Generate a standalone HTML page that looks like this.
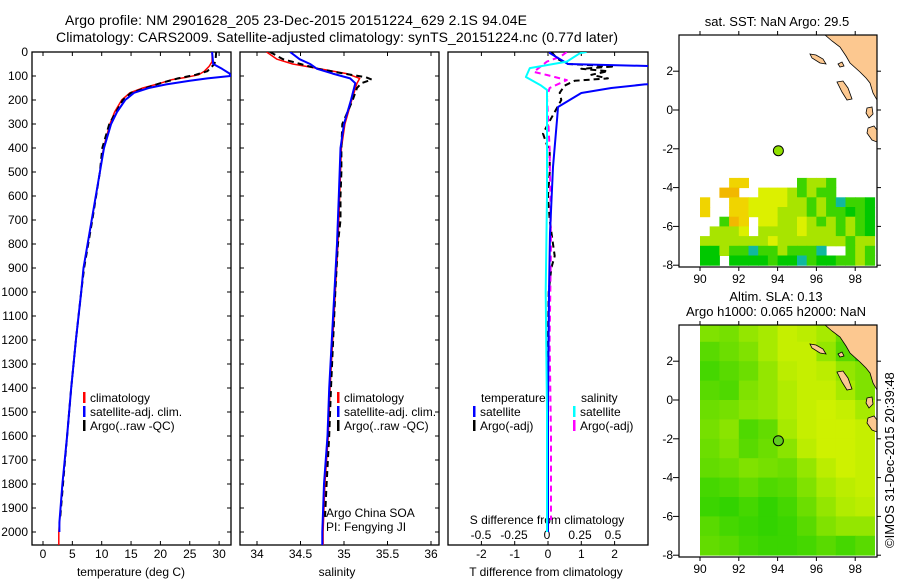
<!DOCTYPE html>
<html><head><meta charset="utf-8"><style>
html,body{margin:0;padding:0;background:#fff;}
svg{display:block;font-family:"Liberation Sans",sans-serif;}
</style></head><body>
<svg id="fig" width="900" height="580" viewBox="0 0 900 580" xmlns="http://www.w3.org/2000/svg">
<defs>
<clipPath id="c1"><rect x="32" y="52" width="199" height="493"/></clipPath>
<clipPath id="c2"><rect x="240" y="52" width="199" height="493"/></clipPath>
<clipPath id="c3"><rect x="448" y="52" width="200" height="493"/></clipPath>
<clipPath id="m1"><rect x="679" y="35" width="198" height="232"/></clipPath>
<clipPath id="m2"><rect x="679" y="325" width="198" height="232"/></clipPath>
</defs>
<g font-size="14" fill="#000">
<text x="65" y="25" textLength="462">Argo profile: NM 2901628_205 23-Dec-2015 20151224_629 2.1S 94.04E</text>
<text x="56" y="42" textLength="562">Climatology: CARS2009. Satellite-adjusted climatology: synTS_20151224.nc (0.77d later)</text>
</g>
<g font-size="13">
<text x="777" y="26" text-anchor="middle">sat. SST: NaN Argo: 29.5</text>
<text x="776" y="301" text-anchor="middle">Altim. SLA: 0.13</text>
<text x="776" y="316" text-anchor="middle">Argo h1000: 0.065 h2000: NaN</text>
<text transform="translate(894,548) rotate(-90)" font-size="13">©IMOS 31-Dec-2015 20:39:48</text>
</g>
<g id="layer"></g>
</svg>
<script>
// ---- data ----
const depthRed=[0,40,60,80,95,105,115,130,150,170,200,250,300,400,500,700,900,1000,1200,1400,1600,1800,2000,2055];
const tempRed=[28.8,28.8,28.3,27.5,26.5,24.5,22,20,17,14.8,13.4,12.2,11.4,10.3,9.7,8.3,6.9,6.5,5.6,4.8,4.1,3.3,2.7,2.7];
const depthBlue=[0,50,70,90,100,110,120,135,150,170,200,250,300,400,500,700,900,1000,1200,1400,1600,1800,1960,2000];
const tempBlue=[28.8,29.0,30.5,31.8,31.9,28,25,21,18,15.5,14,12.6,11.6,10.4,9.7,8.3,6.9,6.5,5.6,4.8,4.1,3.3,2.8,2.8];
const depthArgo=[0,30,50,80,95,110,130,150,170,200,300,400,500,700,900,1000,1200,1400,1600,1800,1950];
const tempArgo=[29.5,29.4,29.2,28,26,23,20,17.5,15,13.6,11.3,10.1,9.7,8.4,7.0,6.5,5.6,4.8,4.1,3.4,2.9];
const salDepth=[0,30,50,70,90,110,130,200,300,400,600,800,1000,1400,1600,1800,2000,2055];
const salRed=[34.11,34.23,34.41,34.72,35.03,35.18,35.15,35.09,35.01,34.97,34.95,34.93,34.9,34.84,34.82,34.78,34.76,34.76];
const salBlue=[34.38,34.49,34.61,34.69,34.87,35.07,35.13,35.08,35.0,34.96,34.94,34.92,34.89,34.83,34.81,34.77,34.75,34.75];
const salArgoDepth=[0,30,50,70,90,105,115,130,150,200,300,400,500,600,700,800,1000,1400,1600,1800,1950];
const salArgo=[34.15,34.3,34.5,34.7,35.0,35.25,35.32,35.2,35.15,35.1,34.98,34.97,34.97,34.96,34.96,34.93,34.9,34.85,34.83,34.8,34.78];
const dTSatDepth=[0,5,50,60,75,130,135,150,171,229,283,479,754,1000,1500,2000];
const dTSat=[0.05,0.06,0.6,3.5,4,3.5,2.9,1.9,1.0,0.3,0.27,0.15,0.06,0.03,0.0,0.0];
const dTArgoDepth=[0,30,50,60,70,80,95,110,120,140,170,200,250,300,340,380,420,500,600,700,800,850,900,1000,1200,1400,1600,1950];
const dTArgo=[0.1,0.3,0.6,2.0,1.0,1.8,1.3,1.8,0.8,0.5,0.35,0.4,0.2,0.0,-0.15,-0.05,0.05,0.05,0,0.05,0.15,0.2,0.1,0.02,0,-0.03,0,0];
const dSSatDepth=[0,5,40,67,104,138,158,300,600,1000,1500,2000];
const dSSat=[0.3,0.25,0.15,-0.13,-0.16,-0.05,0,0,0,-0.01,0,0];
const dSArgoDepth=[0,20,40,83,96,117,150,187,400,800,1200,1600,1950];
const dSArgo=[0.15,0.1,0,-0.1,0,0.15,0.02,0,0.02,0.03,0.02,0.03,0.03];
const tempTicks=[0,5,10,15,20,25,30];
const salTicks=[34,34.5,35,35.5,36];
const salTickLabels=["34","34.5","35","35.5","36"];
const dTTicks=[-2,-1,0,1,2];
const dSTicks=[-0.5,-0.25,0,0.25,0.5];
const dSTickLabels=["-0.5","-0.25","0","0.25","0.5"];
const depthTicks=[0,100,200,300,400,500,600,700,800,900,1000,1100,1200,1300,1400,1500,1600,1700,1800,1900,2000];
const lonTicks=[90,92,94,96,98];
const latTicks=[2,0,-2,-4,-6,-8];
const argoLon=94.04, argoLat=-2.1;
// SST grid rows (lat top -3.5 step -0.5), cols lon 90..98.5 step 0.5
const sstRows=["...YY.....gllg....","..OO..yyylglgg....","Y..YYyyyyllglgcggG","Y..YYyyylllglggGgG","..gOY.yyllylglglgG",".llly.llllylllglgG","lllllllylllllllgll","GGlggcgglgggc..glg","GG.GGGGgGGcgGGgglg"];
// SLA grid (rows lat 4..-8 step 1, cols lon 90..98), 0=green 1=yellow, -1 land
const slaGrid=[[0.5,0.45,0.6,0.7,0.85,0.8,0.7,0.4,-1],[0.3,0.4,0.5,0.7,0.85,0.85,0.6,0.3,-1],[0.2,0.3,0.4,0.6,0.8,0.85,0.8,0.6,0.5],[0.3,0.25,0.5,0.6,0.75,0.85,0.85,0.7,0.5],[0.4,0.45,0.55,0.6,0.75,0.85,0.9,0.85,0.7],[0.45,0.55,0.25,0.35,0.7,0.85,0.9,0.9,0.85],[0.4,0.5,0.3,0.4,0.55,0.8,0.9,0.9,0.85],[0.35,0.4,0.5,0.45,0.4,0.6,0.8,0.9,0.85],[0.2,0.25,0.35,0.25,0.3,0.5,0.7,0.8,0.85],[0.15,0.1,0.2,0.1,0.2,0.4,0.6,0.75,0.8],[0.3,0.2,0.15,0.1,0.15,0.3,0.5,0.6,0.6],[0.35,0.3,0.2,0.15,0.15,0.2,0.3,0.2,0.3]];
// ---- axes ----
const yD=d=>52+d*0.24;
const xT=t=>43+t*5.87;
const xS=s=>257+(s-34)*87;
const xDT=v=>548+v*33.3;
const xDS=v=>547+v*132;
const mX=lon=>700+(lon-90)*19.4;
const m1Y=lat=>110-lat*19.4;
const m2Y=lat=>400-lat*19.4;
const NS="http://www.w3.org/2000/svg";
const L=document.getElementById('layer');
function mk(tag,at,parent){const e=document.createElementNS(NS,tag);for(const k in at)e.setAttribute(k,at[k]);(parent||L).appendChild(e);return e;}
function txt(x,y,s,size,anchor,name){const e=mk('text',{x:x,y:y,'font-size':size,'text-anchor':anchor||'start'});e.textContent=s;


return e;}
function line(xs,ys,xf,yf,color,w,dash,clip,name){let p='';for(let i=0;i<xs.length;i++)p+=(i?'L':'M')+xf(xs[i]).toFixed(1)+','+yf(ys[i]).toFixed(1);
const e=mk('path',{d:p,fill:'none',stroke:color,'stroke-width':w,'clip-path':'url(#'+clip+')','stroke-linejoin':'round'});if(dash)e.setAttribute('stroke-dasharray',dash);


return e;}
const panels=[{x:32,clip:'c1',name:'temperature-panel'},{x:240,clip:'c2',name:'salinity-panel'},{x:448,clip:'c3',name:'difference-panel'}];
panels.forEach((p,i)=>{const w=i==2?200:199;
const r=mk('rect',{x:p.x,y:52,width:w,height:493,fill:'none',stroke:'#000','stroke-width':1.3});


if(i<2)depthTicks.forEach(d=>{mk('line',{x1:p.x,x2:p.x+4,y1:yD(d),y2:yD(d),stroke:'#000'});mk('line',{x1:p.x+w-4,x2:p.x+w,y1:yD(d),y2:yD(d),stroke:'#000'});});
});
depthTicks.forEach(d=>{txt(28,yD(d)+4,String(d),12,'end','depth-tick-label');});
tempTicks.forEach(t=>{mk('line',{x1:xT(t),x2:xT(t),y1:52,y2:56,stroke:'#000'});mk('line',{x1:xT(t),x2:xT(t),y1:541,y2:545,stroke:'#000'});txt(xT(t),558,String(t),12,'middle','temperature-tick-label');});
salTicks.forEach((s,i)=>{mk('line',{x1:xS(s),x2:xS(s),y1:52,y2:56,stroke:'#000'});mk('line',{x1:xS(s),x2:xS(s),y1:541,y2:545,stroke:'#000'});txt(xS(s),558,salTickLabels[i],12,'middle','salinity-tick-label');});
dTTicks.forEach(v=>{mk('line',{x1:xDT(v),x2:xDT(v),y1:52,y2:56,stroke:'#000'});mk('line',{x1:xDT(v),x2:xDT(v),y1:541,y2:545,stroke:'#000'});txt(xDT(v),558,String(v),12,'middle','t-diff-tick-label');});
dSTicks.forEach((v,i)=>{txt(xDS(v),539,dSTickLabels[i],12,'middle','s-diff-tick-label');});
txt(131,576,'temperature (deg C)',12,'middle','temperature-axis-title');
txt(337,576,'salinity',12,'middle','salinity-axis-title');
txt(546,576,'T difference from climatology',12,'middle','t-diff-axis-title');
txt(547,524,'S difference from climatology',12,'middle','s-diff-axis-title');
line(tempRed,depthRed,xT,yD,'#ff0000',1.5,null,'c1','temperature-climatology-line');
line(tempArgo,depthArgo,xT,yD,'#000',2,'6,4','c1','temperature-argo-line');
line(tempBlue,depthBlue,xT,yD,'#0000ff',2,null,'c1','temperature-satellite-line');
line(salRed,salDepth,xS,yD,'#ff0000',1.5,null,'c2','salinity-climatology-line');
line(salArgo,salArgoDepth,xS,yD,'#000',2,'6,4','c2','salinity-argo-line');
line(salBlue,salDepth,xS,yD,'#0000ff',2,null,'c2','salinity-satellite-line');
line(dTArgo,dTArgoDepth,xDT,yD,'#000',2,'6,4','c3','t-diff-argo-line');
line(dSArgo,dSArgoDepth,xDS,yD,'#ff00ff',2,'6,4','c3','s-diff-argo-line');
line(dTSat,dTSatDepth,xDT,yD,'#0000ff',2,null,'c3','t-diff-satellite-line');
line(dSSat,dSSatDepth,xDS,yD,'#00ffff',2,null,'c3','s-diff-satellite-line');
function leg(x,y,c,s,name){const b=mk('rect',{x:x,y:y-10,width:2.5,height:11,fill:c});


txt(x+7,y,s,12,'start',name);}
leg(83,402,'#ff0000','climatology','legend-climatology');
leg(83,416,'#0000ff','satellite-adj. clim.','legend-satellite-adj');
leg(83,430,'#000','Argo(..raw -QC)','legend-argo');
leg(337,402,'#ff0000','climatology','legend-sal-climatology');
leg(337,416,'#0000ff','satellite-adj. clim.','legend-sal-satellite-adj');
leg(337,430,'#000','Argo(..raw -QC)','legend-sal-argo');
txt(326,517,'Argo China SOA',12,'start','argo-institution');
txt(326,531,'PI: Fengying JI',12,'start','argo-pi');
txt(481,402,'temperature',12,'start','legend-temperature-header');
txt(581,402,'salinity',12,'start','legend-salinity-header');
leg(473,416,'#0000ff','satellite','legend-t-satellite');
leg(473,430,'#000','Argo(-adj)','legend-t-argo');
leg(573,416,'#00ffff','satellite','legend-s-satellite');
leg(573,430,'#ff00ff','Argo(-adj)','legend-s-argo');
// ---- maps ----
const sstCol={O:'#f2b800',Y:'#f0d400',y:'#dcf000',l:'#a8e400',g:'#3cd400',G:'#00c800',c:'#10b8a0'};
const gSST=mk('g',{'clip-path':'url(#m1)'});


sstRows.forEach((row,r)=>{for(let c=0;c<row.length;c++){const k=row[c];if(k==='.')continue;
const lon=90+c*0.5, lat=-3.5-r*0.5;
const cell=mk('rect',{x:mX(lon).toFixed(1),y:m1Y(lat).toFixed(1),width:10.2,height:10.2,fill:sstCol[k]},gSST);

}});
function slaColor(v){const a=[30,207,0],b=[226,245,0];return 'rgb('+a.map((x,i)=>Math.round(x+(b[i]-x)*v)).join(',')+')';}
const gSLA=mk('g',{'clip-path':'url(#m2)'});


slaGrid.forEach((row,r)=>row.forEach((v,c)=>{const lon=90+c, lat=4-r;const col=v<0?'#20c800':slaColor(v);
const cell=mk('rect',{x:mX(lon).toFixed(1),y:m2Y(lat).toFixed(1),width:19.8,height:19.8,fill:col},gSLA);

}));
[[0,'sst'],[290,'sla']].forEach(([dy,nm])=>{
const outer=mk('g',{'clip-path':'url(#m1)'});
outer.setAttribute('transform','translate(0,'+dy+')');
const g=mk('g',{},outer);
const land=mk('path',{d:'M825,35 L832,41 L840,47 L846,56 L850,63 L860,72 L866,78 L870,83 L873,93 L877,100 L878,35 Z',fill:'#fcc890',stroke:'#000','stroke-width':0.8},g);


[['M810,54 L816,55 L823,59 L826,64 L820,63 L812,58 Z','island-simeulue'],['M837,82 L843,81 L848,88 L852,99 L847,100 L842,92 Z','island-nias'],['M867,108 L872,107 L873,114 L869,118 L866,113 Z','island-siberut'],['M868,128 L874,126 L877,130 L877,142 L872,140 L867,133 Z','island-pagai'],['M838,64 L842,62 L844,66 L840,67 Z','island-small']].forEach(([d,n])=>{
const is=mk('path',{d:d,fill:'#fcc890',stroke:'#000','stroke-width':0.8},g);

});
const top=dy?325:35, h=232;
const fr=mk('rect',{x:679,y:top,width:198,height:h,fill:'none',stroke:'#000','stroke-width':1.2});


const yf=dy?m2Y:m1Y;
lonTicks.forEach(lon=>{mk('line',{x1:mX(lon),x2:mX(lon),y1:top,y2:top-4,stroke:'#000'});mk('line',{x1:mX(lon),x2:mX(lon),y1:top+h,y2:top+h+4,stroke:'#000'});txt(mX(lon),top+h+16,String(lon),12,'middle',nm+'-lon-tick-label');});
latTicks.forEach(lat=>{mk('line',{x1:673,x2:679,y1:yf(lat),y2:yf(lat),stroke:'#000'});mk('line',{x1:877,x2:881,y1:yf(lat),y2:yf(lat),stroke:'#000'});txt(673,yf(lat)+4,String(lat),12,'end',nm+'-lat-tick-label');});
const dot=mk('circle',{cx:mX(argoLon),cy:yf(argoLat),r:5,fill:dy?'#60cc20':'#90e000',stroke:'#000','stroke-width':1});


});
</script>
</body></html>
